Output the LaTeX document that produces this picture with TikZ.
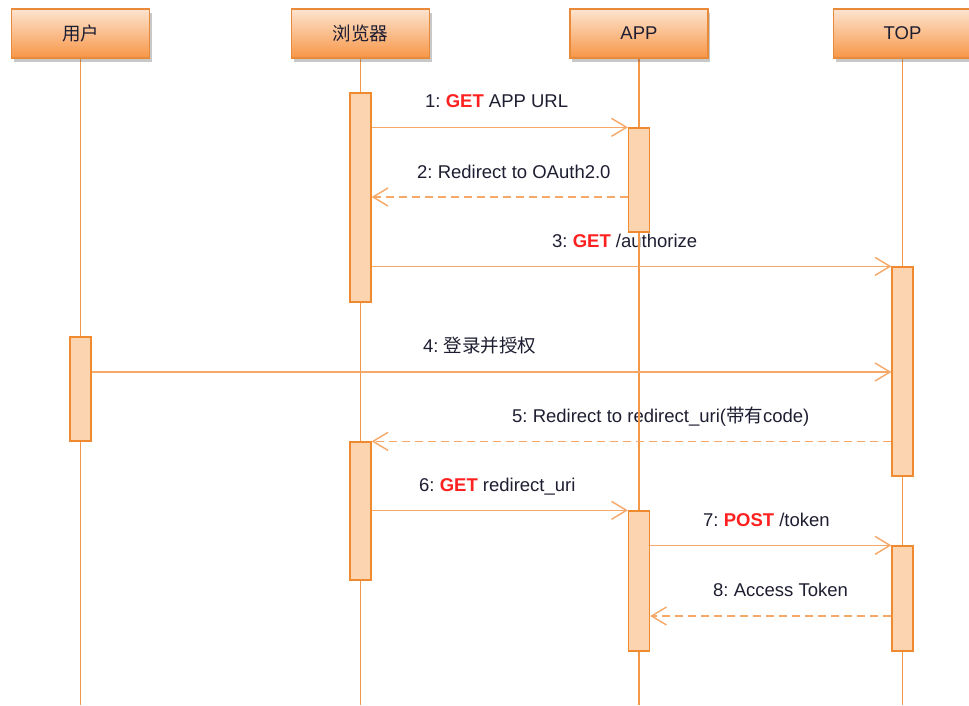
\documentclass[tikz,border=0pt]{standalone}
\usepackage{fontspec}
\setmainfont{Liberation Sans}
\newfontfamily\cjk{Noto Sans CJK SC}
\usetikzlibrary{arrows.meta,shadows}
\definecolor{hdrtop}{HTML}{FDE4D0}
\definecolor{hdrbot}{HTML}{F79646}
\definecolor{hdrline}{HTML}{E98A3A}
\definecolor{life}{HTML}{F29848}
\definecolor{msgc}{HTML}{F5A868}
\definecolor{actfill}{HTML}{FCD5B0}
\definecolor{actline}{HTML}{F08A30}
\definecolor{txt}{HTML}{1E1E32}
\definecolor{kw}{HTML}{FF2020}
\pgfdeclarelayer{bg}
\pgfsetlayers{bg,main}
\frenchspacing
\newcommand{\kwd}[1]{\textcolor{kw}{\textbf{#1}}}
\begin{document}
\begin{tikzpicture}[x=1pt,y=-1pt,
  font=\fontsize{18.5}{21}\selectfont, text=txt,
  header/.style={draw=hdrline, line width=1.3pt, top color=hdrtop, bottom color=hdrbot,
    minimum width=138pt, minimum height=49pt, inner sep=0pt,
    drop shadow={shadow xshift=2pt, shadow yshift=-4pt, opacity=0.3, fill=black!70}},
  lifeline/.style={draw=life, line width=1.5pt},
  actbox/.style={draw=actline, fill=actfill, line width=1.3pt, minimum width=21pt, inner sep=0pt},
  msg/.style={draw=msgc, line width=1.4pt, -{Straight Barb[length=15pt,width=18pt]}},
  reply/.style={msg, dash pattern=on 8pt off 5pt},
  lbl/.style={inner sep=0pt, anchor=base west},
]
\useasboundingbox (0,0) rectangle (969,705);

% headers
\node[header] (hU) at (80.5,33.5) {\cjk 用户};
\node[header] (hB) at (360.5,33.5) {\cjk 浏览器};
\node[header] (hA) at (639,33.5) {APP};
\node[header] (hT) at (902.5,33.5) {TOP};

% activation boxes
\node[actbox, minimum height=209pt] (b1) at (360.5,197.5) {};
\node[actbox, minimum height=104pt] (p1) at (639,180) {};
\node[actbox, minimum height=209pt] (t1) at (902.5,371.5) {};
\node[actbox, minimum height=104pt] (u1) at (80.5,389) {};
\node[actbox, minimum height=138pt] (b2) at (360.5,511) {};
\node[actbox, minimum height=140pt] (p2) at (639,581) {};
\node[actbox, minimum height=105pt] (t2) at (902.5,598.5) {};

\coordinate (bottom) at (0,705);
\coordinate (y2) at (0,197);
\coordinate (y4) at (0,372);
\coordinate (y8) at (0,616);

\begin{pgfonlayer}{bg}
\fill[white] (0,0) rectangle (969,705);
% labels
\node[lbl] (l1) at (425,107) {1: \kwd{GET} APP URL};
\node[lbl] (l2) at (417,178) {2: Redirect to OAuth2.0};
\node[lbl] (l3) at (552,247) {3: \kwd{GET} /authorize};
\node[lbl] (l4) at (423,352) {4: {\cjk 登录并授权}};
\node[lbl] (l5) at (512,422) {5: Redirect to redirect\_uri({\cjk 带有}code)};
\node[lbl] (l6) at (419,491) {6: \kwd{GET} redirect\_uri};
\node[lbl] (l7) at (703,526) {7: \kwd{POST} /token};
\node[lbl] (l8) at (713,596) {8: Access Token};

% lifelines
\draw[lifeline] (hU.south) -- (hU.south |- bottom);
\draw[lifeline] (hB.south) -- (hB.south |- bottom);
\draw[lifeline] (hA.south) -- (hA.south |- bottom);
\draw[lifeline] (hT.south) -- (hT.south |- bottom);

% messages
\draw[msg] (b1.east |- p1.north) -- (p1.north west);
\draw[reply] (p1.west |- y2) -- (b1.east |- y2);
\draw[msg] (b1.east |- t1.north) -- (t1.north west);
\draw[msg] (u1.east |- y4) -- (t1.west |- y4);
\draw[reply] (t1.west |- b2.north) -- (b2.north east);
\draw[msg] (b2.east |- p2.north) -- (p2.north west);
\draw[msg] (p2.east |- t2.north) -- (t2.north west);
\draw[reply] (t2.west |- y8) -- (p2.east |- y8);
\end{pgfonlayer}
\end{tikzpicture}
\end{document}
